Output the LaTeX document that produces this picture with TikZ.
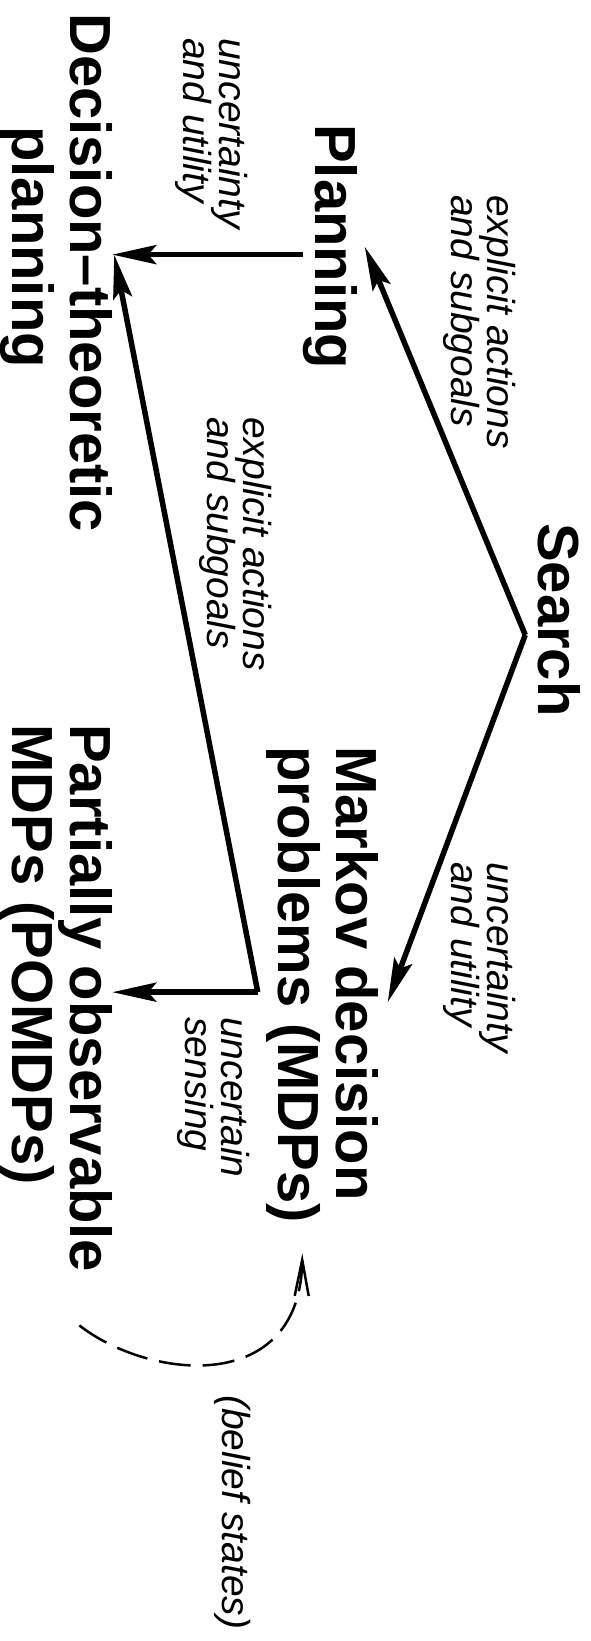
\documentclass[tikz,border=0pt]{standalone}
\usepackage{fontspec}
\setmainfont{Liberation Sans}
\usetikzlibrary{arrows.meta,calc}
\newcommand\Lstack[2]{\vtop{\lineskiplimit=-100pt\lineskip=0pt\halign{##\hfil\cr#1\cr#2\cr}}}
\begin{document}
\begin{tikzpicture}[x=1pt,y=-1pt,
  big/.style={font=\fontsize{58}{58}\selectfont\bfseries, rotate=-90, inner sep=0pt, anchor=base west},
  lab/.style={font=\fontsize{39}{36}\selectfont\itshape, rotate=-90, inner sep=0pt, anchor=base west},
  arr/.style={line width=5.5pt, -{Stealth[length=44pt,width=19pt,inset=8pt]}},
  darr/.style={line width=2.5pt, dash pattern=on 32pt off 12pt, -{Straight Barb[length=36pt,width=14pt,line width=2.5pt]}}]
\useasboundingbox (0,0) rectangle (590,1641);
% main nodes
\node[big] (dtp) at (70,13) {\Lstack{Decision–theoretic}{\kern113pt planning}};
\node[big] (plan) at (315,124) {Planning};
\node[big] (search) at (538,523) {Search};
\node[big] (mdp) at (336,746) {\Lstack{Markov decision}{problems (MDPs)}};
\node[big] (pom) at (70,724) {\Lstack{Partially observable}{MDPs (POMDPs)}};
% labels
\node[lab] (l1) at (487,195) {\Lstack{explicit actions}{and subgoals}};
\node[lab] (l2) at (219,38) {\Lstack{uncertainty}{and utility}};
\node[lab] (l3) at (243,417) {\Lstack{explicit actions}{and subgoals}};
\node[lab] (l4) at (487,862) {\Lstack{uncertainty}{and utility}};
\node[lab] (l5) at (221,1017) {\Lstack{uncertain}{sensing}};
\node[lab] (l6) at (222,1395) {(belief states)};
% helper points
\coordinate (sv) at ($(search.south)+(-12,15)$);
\coordinate (mc) at ($(mdp.south)+(-8,7.5)$);
\coordinate (ps) at ($(plan.south)+(0,8)$);
% connectors
\draw[arr] (sv) -- ($(plan.north)+(7.5,0)$);
\draw[arr] (sv) -- ($(mdp.north)+(9.5,17.5)$);
\draw[arr] (ps) -- (ps -| dtp.north);
\draw[arr] (mc) -- ($(ps -| dtp.north)+(2,0)$);
\draw[arr] (mc) -- (mc -| pom.north);
\draw[darr] ($(pom.east)+(23.4,53)$) .. controls +(71,55) and +(-2,142) .. ($(mdp.east)+(-19.7,30)$);
\end{tikzpicture}
\end{document}
